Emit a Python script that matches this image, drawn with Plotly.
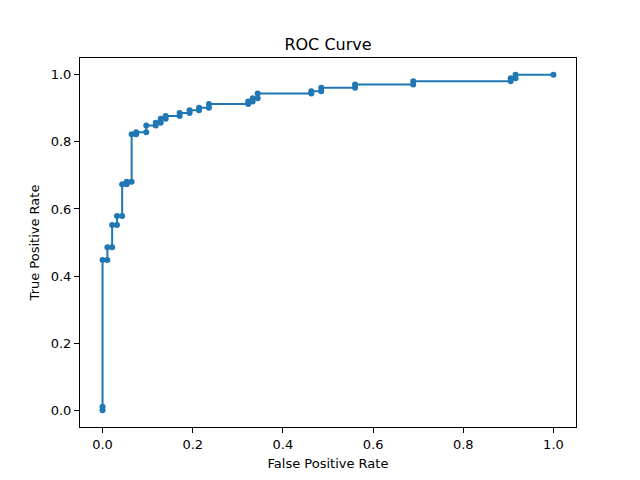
import plotly.graph_objects as go

fpr = [0.0, 0.0, 0.0, 0.0107, 0.0107, 0.0213, 0.0213, 0.032, 0.032, 0.0435, 0.0435,
       0.0535, 0.0535, 0.0645, 0.0645, 0.0745, 0.0745, 0.097, 0.097, 0.118, 0.118,
       0.129, 0.129, 0.140, 0.140, 0.171, 0.171, 0.193, 0.193, 0.214, 0.214, 0.236, 0.236,
       0.323, 0.323, 0.333, 0.333, 0.344, 0.344, 0.463, 0.463, 0.485, 0.485,
       0.56, 0.56, 0.689, 0.689, 0.905, 0.905, 0.916, 0.916, 1.0]
tpr = [0.0, 0.01, 0.448, 0.448, 0.486, 0.486, 0.552, 0.552, 0.579, 0.579, 0.674,
       0.674, 0.681, 0.681, 0.823, 0.823, 0.829, 0.829, 0.849, 0.849, 0.857,
       0.857, 0.869, 0.869, 0.877, 0.877, 0.886, 0.886, 0.894, 0.894, 0.902, 0.902, 0.913,
       0.913, 0.92, 0.92, 0.93, 0.93, 0.944, 0.944, 0.951, 0.951, 0.961,
       0.961, 0.971, 0.971, 0.981, 0.981, 0.99, 0.99, 1.0, 1.0]

ticks = [0.0, 0.2, 0.4, 0.6, 0.8, 1.0]
tick_text = ["0.0", "0.2", "0.4", "0.6", "0.8", "1.0"]

fig = go.Figure()
fig.add_trace(go.Scatter(
    x=fpr, y=tpr, mode="lines+markers",
    line=dict(color="#1f77b4", width=2),
    marker=dict(color="#1f77b4", size=6),
    showlegend=False,
))

axis_common = dict(
    range=[-0.05, 1.05], tickvals=ticks, ticktext=tick_text,
    showgrid=False, zeroline=False, showline=True, linecolor="black", linewidth=1,
    mirror=True, ticks="outside", ticklen=5, tickwidth=1, tickcolor="black",
    tickfont=dict(family="DejaVu Sans", size=13, color="black"),
)

fig.update_layout(
    width=640, height=480,
    margin=dict(l=72, r=72, t=50, b=61),
    paper_bgcolor="white", plot_bgcolor="white",
    font=dict(family="DejaVu Sans", color="black"),
    title=dict(text="ROC Curve", x=0.5, xanchor="center", xref="paper",
               yref="container", y=1 - 42 / 480, yanchor="bottom",
               font=dict(family="DejaVu Sans", size=16, color="black")),
    xaxis=dict(**axis_common, title=dict(text="False Positive Rate", standoff=8,
               font=dict(family="DejaVu Sans", size=13, color="black"))),
    yaxis=dict(**axis_common, title=dict(text="True Positive Rate", standoff=8,
               font=dict(family="DejaVu Sans", size=13, color="black"))),
)

fig.write_html("out.html")
